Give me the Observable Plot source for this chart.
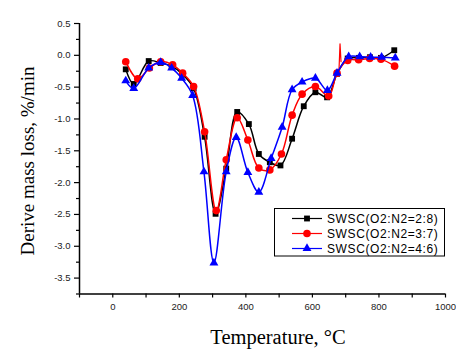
<!DOCTYPE html>
<html>
<head>
<meta charset="utf-8">
<script src="https://cdn.jsdelivr.net/npm/d3@7"></script>
<script src="https://cdn.jsdelivr.net/npm/@observablehq/plot@0.6"></script>
<style>
  html, body { margin: 0; padding: 0; background: #fff; }
  #chart { width: 456px; height: 349px; }
</style>
</head>
<body>
<div id="chart"></div>
<script>
// ---- data ----
const seriesNames = ["SWSC(O2:N2=2:8)", "SWSC(O2:N2=3:7)", "SWSC(O2:N2=4:6)"];

const temps28 = [39, 63, 108, 144, 177, 210, 243, 276, 309, 341, 374, 409, 439, 472, 504, 539, 574, 609, 644, 674, 706, 740, 773, 806, 846];
const vals28  = [-0.22, -0.45, -0.09, -0.12, -0.17, -0.30, -0.52, -1.28, -2.49, -1.78, -0.89, -1.08, -1.55, -1.68, -1.73, -1.31, -0.80, -0.58, -0.66, -0.29, -0.05, -0.04, -0.03, -0.04, 0.08];

const temps37 = [39, 75, 110, 144, 180, 210, 243, 276, 311, 341, 374, 406, 439, 472, 507, 539, 569, 609, 649, 674, 706, 739, 772, 806, 847];
const vals37  = [-0.10, -0.37, -0.20, -0.10, -0.15, -0.28, -0.49, -1.20, -2.44, -1.64, -0.98, -1.33, -1.77, -1.80, -1.55, -0.94, -0.61, -0.49, -0.64, -0.28, -0.08, -0.07, -0.05, -0.06, -0.17];

const temps46 = [39, 63, 108, 144, 177, 207, 240, 274, 304, 341, 371, 406, 439, 476, 509, 539, 569, 609, 645, 674, 709, 742, 775, 808, 849];
const vals46  = [-0.40, -0.52, -0.20, -0.11, -0.20, -0.36, -0.63, -1.83, -3.26, -1.83, -1.29, -1.84, -2.15, -1.62, -1.13, -0.54, -0.42, -0.36, -0.55, -0.28, -0.02, -0.02, -0.03, -0.03, -0.04];

// short spike in the 3:7 record
const spikeTemps37 = [680, 683, 686];
const spikeVals37  = [-0.22, 0.18, -0.10];

const xTicks = [-100, 0, 100, 200, 300, 400, 500, 600, 700, 800, 900, 1000];
const yMajor = [-3.5, -3.0, -2.5, -2.0, -1.5, -1.0, -0.5, 0.0, 0.5];
const yMinor = [-3.75, -3.25, -2.75, -2.25, -1.75, -1.25, -0.75, -0.25, 0.25];

const xLabel = "Temperature, °C";
const yLabel = "Derive mass loss, %/min";

// ---- build tables ----
const toRows = (t, v) => t.map((d, i) => ({t: d, v: v[i]}));
const s28 = toRows(temps28, vals28);
const s37 = toRows(temps37, vals37);
const s46 = toRows(temps46, vals46);
const spike = toRows(spikeTemps37, spikeVals37);

const colors = ["#000000", "#ff0000", "#0000ff"];
const symbols = ["square", "circle", "triangle"];
const radii = [3.3, 3.8, 3.3];

const lineOpts = (c) => ({x: "t", y: "v", stroke: c, strokeWidth: 1.5, curve: "catmull-rom"});
const dotOpts = (i) => ({x: "t", y: "v", fill: colors[i], stroke: "none", symbol: symbols[i], r: radii[i]});

const svg = Plot.plot({
  width: 456,
  height: 349,
  marginLeft: 79,
  marginRight: 11,
  marginTop: 23,
  marginBottom: 55.5,
  x: {domain: [-100, 1000]},
  y: {domain: [-3.75, 0.5]},
  style: {fontFamily: "'Liberation Sans', Arial, sans-serif", fontSize: "9.5px", color: "#222", background: "#fff"},
  marks: [
    Plot.axisX(xTicks, {tickSize: 4, tickPadding: 5, strokeWidth: 1.2, stroke: "#000",
      tickFormat: d => (d % 200 === 0 ? String(d) : ""), label: null}),
    Plot.axisY(yMajor, {tickSize: 5, tickPadding: 4, strokeWidth: 1.2, stroke: "#000",
      tickFormat: d => d.toFixed(1), label: null}),
    Plot.axisY(yMinor, {tickSize: 3, strokeWidth: 1.2, stroke: "#000", tickFormat: () => "", label: null}),
    Plot.ruleX([-100], {stroke: "#000", strokeWidth: 1.5}),
    Plot.ruleY([-3.75], {stroke: "#000", strokeWidth: 1.5}),
    Plot.line(s28, lineOpts(colors[0])),
    Plot.dot(s28, dotOpts(0)),
    Plot.line(spike, {x: "t", y: "v", stroke: colors[1], strokeWidth: 1.2}),
    Plot.line(s37, lineOpts(colors[1])),
    Plot.dot(s37, dotOpts(1)),
    Plot.line(s46, lineOpts(colors[2])),
    Plot.dot(s46, dotOpts(2))
  ]
});

const root = d3.select(svg);

// axis titles
root.append("text")
  .attr("transform", "translate(34,161) rotate(-90)")
  .attr("text-anchor", "middle")
  .attr("font-family", "'Liberation Serif', 'Times New Roman', serif")
  .attr("font-size", 19)
  .attr("fill", "#000")
  .text(yLabel);

root.append("text")
  .attr("x", 278)
  .attr("y", 344)
  .attr("text-anchor", "middle")
  .attr("font-family", "'Liberation Serif', 'Times New Roman', serif")
  .attr("font-size", 20.5)
  .attr("fill", "#000")
  .text(xLabel);

// legend
const lg = root.append("g");
lg.append("rect")
  .attr("x", 274.5).attr("y", 208.5).attr("width", 170).attr("height", 47.5)
  .attr("fill", "#fff").attr("stroke", "#000").attr("stroke-width", 1);
seriesNames.forEach((name, i) => {
  const cy = 218.5 + i * 15;
  lg.append("line").attr("x1", 292).attr("x2", 322).attr("y1", cy).attr("y2", cy)
    .attr("stroke", colors[i]).attr("stroke-width", 1.2);
  const sym = {square: d3.symbolSquare, circle: d3.symbolCircle, triangle: d3.symbolTriangle}[symbols[i]];
  lg.append("path").attr("transform", `translate(307,${cy})`)
    .attr("d", d3.symbol(sym, Math.PI * radii[i] * radii[i])())
    .attr("fill", colors[i]);
  lg.append("text").attr("x", 327).attr("y", cy + 4.3)
    .attr("text-anchor", "start")
    .attr("font-family", "'Liberation Sans', Arial, sans-serif")
    .attr("font-size", 12).attr("letter-spacing", "0.6px").attr("fill", "#000")
    .text(name);
});

document.getElementById("chart").appendChild(svg);
</script>
</body>
</html>
